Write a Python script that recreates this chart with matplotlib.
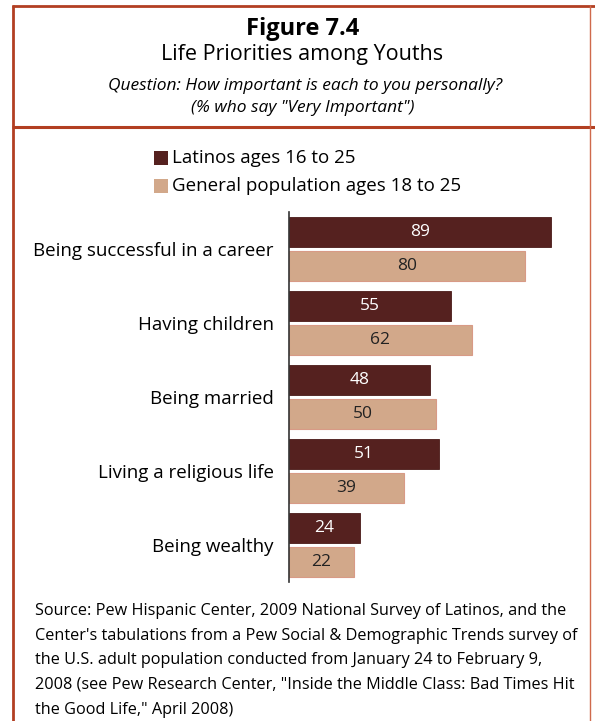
import matplotlib.pyplot as plt
from matplotlib.patches import Rectangle
from matplotlib.lines import Line2D
import numpy as np

categories = ['Being successful in a career', 'Having children', 'Being married',
              'Living a religious life', 'Being wealthy']
latinos = [89, 55, 48, 51, 24]
general = [80, 62, 50, 39, 22]
series_names = ['Latinos ages 16 to 25', 'General population ages 18 to 25']

dark = '#55211f'
light = '#d2a88a'
frame = '#b23f22'

plt.rcParams['font.family'] = ['Open Sans', 'DejaVu Sans']

W, H = 595, 721
fig = plt.figure(figsize=(W / 100, H / 100), dpi=100)

def fx(px):
    return px / W

def fy(py):
    return 1 - py / H

def rule(x0, y0, x1, y1, lw, color=frame):
    fig.lines.append(Line2D([fx(x0), fx(x1)], [fy(y0), fy(y1)], transform=fig.transFigure,
                            color=color, lw=lw, solid_capstyle='butt'))

# frame lines: left, top, divider under the heading, thin right edge
rule(13, 5, 13, 721, 2.0)
rule(12, 6, 595, 6, 2.0)
rule(12, 127, 595, 127, 2.2)
rule(590, 5, 590, 721, 1.0, '#cf6a4c')

fig.text(fx(303), fy(35), 'Figure 7.4', ha='center', va='baseline', fontsize=17, fontweight='bold')
fig.text(fx(302), fy(60), 'Life Priorities among Youths', ha='center', va='baseline', fontsize=15.5)
fig.text(fx(305), fy(90), 'Question: How important is each to you personally?', ha='center',
         va='baseline', fontsize=12.5, style='italic')
fig.text(fx(303), fy(112), '(% who say "Very Important")', ha='center', va='baseline',
         fontsize=12.5, style='italic')

ax = fig.add_axes([fx(289), fy(582), 294.4 / W, 370 / H])
y = np.arange(len(categories))
h = 0.4
off = 0.23
ax.barh(y - off, latinos, height=h, color=dark, edgecolor='#4a1a18', lw=0.6)
ax.barh(y + off, general, height=h, color=light, edgecolor='#d89a86', lw=0.8)

for yi, v in zip(y, latinos):
    ax.text(v / 2, yi - off, str(v), ha='center', va='center', color='white', fontsize=12.5)
for yi, v in zip(y, general):
    ax.text(v / 2, yi + off, str(v), ha='center', va='center', color='#222222', fontsize=12.5)

ax.set_xlim(0, 100)
ax.set_ylim(len(categories) - 0.5, -0.5)
ax.set_yticks(y)
ax.set_yticklabels(categories, fontsize=13.5)
ax.tick_params(axis='y', length=0, pad=11)
ax.set_xticks([])
for side in ['top', 'right', 'bottom']:
    ax.spines[side].set_visible(False)
ax.spines['left'].set_color('#333333')
ax.spines['left'].set_linewidth(1.2)

# legend drawn by hand as two rows of swatches
for i, (name, c) in enumerate(zip(series_names, [dark, light])):
    yy = 158 + 28 * i
    fig.patches.append(Rectangle((fx(154), fy(yy + 7)), fx(14), 14 / H, transform=fig.transFigure,
                                 facecolor=c, edgecolor='none'))
    fig.text(fx(172), fy(yy), name, ha='left', va='center', fontsize=13.5)

source = ('Source: Pew Hispanic Center, 2009 National Survey of Latinos, and the\n'
          "Center's tabulations from a Pew Social & Demographic Trends survey of\n"
          'the U.S. adult population conducted from January 24 to February 9,\n'
          '2008 (see Pew Research Center, "Inside the Middle Class: Bad Times Hit\n'
          'the Good Life," April 2008)')
fig.text(fx(35), fy(603), source, ha='left', va='top', fontsize=11.7, linespacing=1.72)

fig.savefig('out.png', dpi=100)
